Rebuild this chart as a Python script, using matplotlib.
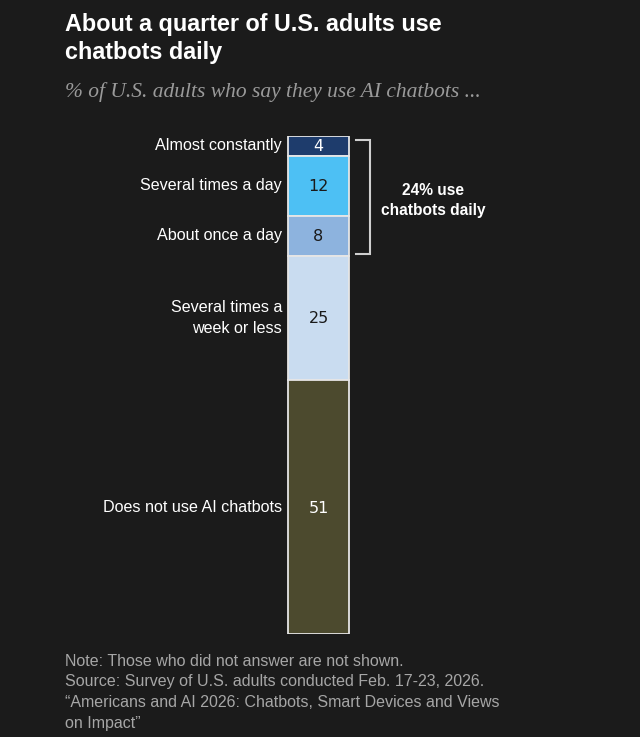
import numpy as np
import matplotlib
matplotlib.use("Agg")
from matplotlib import pyplot as plt

# data
categories = ["Almost constantly", "Several times a day", "About once a day",
              "Several times a\nweek or less", "Does not use AI chatbots"]
values = [4, 12, 8, 25, 51]
colors = ["#1e3c6c", "#4dc0f4", "#8db3de", "#c9dcf0", "#4c4a2e"]
num_colors = ["white", "#1a1a1a", "#1a1a1a", "#1a1a1a", "white"]
daily_n = 3  # first three categories are "daily"

title = "About a quarter of U.S. adults use\nchatbots daily"
subtitle = "% of U.S. adults who say they use AI chatbots ..."
note_lines = ["Note: Those who did not answer are not shown.",
              "Source: Survey of U.S. adults conducted Feb. 17-23, 2026.",
              "\u201cAmericans and AI 2026: Chatbots, Smart Devices and Views",
              "on Impact\u201d"]

bg = "#1b1b1b"
W, H = 640, 737
fig = plt.figure(figsize=(W / 100, H / 100), dpi=100, facecolor=bg)

# axes: x in pixels across the figure, y in percent across the bar height
bar_top, bar_bot = 136, 634
ax = fig.add_axes([0, 1 - bar_bot / H, 1, (bar_bot - bar_top) / H])
ax.set_xlim(0, W)
ax.set_ylim(100, 0)
ax.axis("off")
ax.set_facecolor(bg)

bar_x, bar_w = 318.5, 61
bottoms = np.concatenate([[0], np.cumsum(values)[:-1]])
ax.bar([bar_x] * len(values), values, bottom=bottoms, width=bar_w,
       color=colors, edgecolor="#e6e6e6", linewidth=1.3)

for cat, v, b, nc in zip(categories, values, bottoms, num_colors):
    mid = b + v / 2
    ax.text(282, mid, cat, ha="right", va="center", color="white",
            fontsize=11.6, family="Liberation Sans", linespacing=1.5)
    ax.text(bar_x, mid + 0.2, str(v), ha="center", va="center", color=nc,
            fontsize=11.5, family="DejaVu Sans")

# bracket for daily users
daily = sum(values[:daily_n])
y0, y1 = 0.8, daily - 0.3
bx0, bx1 = 356, 370
ax.plot([bx0, bx1, bx1, bx0], [y0, y0, y1, y1], color="#cfcfcf", lw=1.5,
        solid_joinstyle="miter")
ax.text(433, daily / 2 + 0.9, "%d%% use\nchatbots daily" % daily,
        ha="center", va="center", color="white", fontsize=11.2,
        fontweight="bold", family="Liberation Sans", linespacing=1.4)

# titles
fig.text(65 / W, 1 - 13 / H, title, ha="left", va="top", color="white",
         fontsize=16.8, fontweight="bold", family="Liberation Sans",
         linespacing=1.3)
fig.text(65 / W, 1 - 92 / H, subtitle, ha="left", va="center", color="#9a9a9a",
         fontsize=15.5, style="italic", family="Liberation Serif")

for i, line in enumerate(note_lines):
    fig.text(65 / W, 1 - (661 + i * 20.7) / H, line, ha="left", va="center",
             color="#a6a6a6", fontsize=11.5, family="Liberation Sans")

fig.savefig("out.png", dpi=100, facecolor=bg)
